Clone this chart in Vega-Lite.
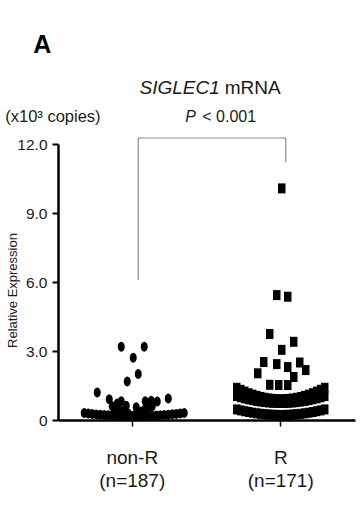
{
  "$schema": "https://vega.github.io/schema/vega-lite/v6.json",
  "width": 297,
  "height": 276,
  "autosize": {"type": "none"},
  "padding": {"left": 58, "top": 144, "right": 5, "bottom": 106},
  "background": "white",
  "config": {"view": {"stroke": null}, "font": "Liberation Sans"},
  "datasets": {
    "pts": [
      {"g": "non-R", "dx": -48, "v": 0.30}, {"g": "non-R", "dx": -44, "v": 0.279}, {"g": "non-R", "dx": -40, "v": 0.26},
      {"g": "non-R", "dx": -36, "v": 0.243}, {"g": "non-R", "dx": -32, "v": 0.228}, {"g": "non-R", "dx": -28, "v": 0.214},
      {"g": "non-R", "dx": -24, "v": 0.203}, {"g": "non-R", "dx": -20, "v": 0.193}, {"g": "non-R", "dx": -16, "v": 0.184},
      {"g": "non-R", "dx": -12, "v": 0.178}, {"g": "non-R", "dx": -8, "v": 0.174}, {"g": "non-R", "dx": -4, "v": 0.171},
      {"g": "non-R", "dx": 0, "v": 0.17}, {"g": "non-R", "dx": 4, "v": 0.171}, {"g": "non-R", "dx": 8, "v": 0.173},
      {"g": "non-R", "dx": 12, "v": 0.177}, {"g": "non-R", "dx": 16, "v": 0.182}, {"g": "non-R", "dx": 20, "v": 0.189},
      {"g": "non-R", "dx": 24, "v": 0.198}, {"g": "non-R", "dx": 28, "v": 0.208}, {"g": "non-R", "dx": 32, "v": 0.219},
      {"g": "non-R", "dx": 36, "v": 0.232}, {"g": "non-R", "dx": 40, "v": 0.247}, {"g": "non-R", "dx": 44, "v": 0.263},
      {"g": "non-R", "dx": 48, "v": 0.281}, {"g": "non-R", "dx": 52, "v": 0.30},
      {"g": "non-R", "dx": -20, "v": 0.6}, {"g": "non-R", "dx": -16, "v": 0.52}, {"g": "non-R", "dx": -12, "v": 0.44},
      {"g": "non-R", "dx": -8, "v": 0.36}, {"g": "non-R", "dx": -4, "v": 0.28}, {"g": "non-R", "dx": 4, "v": 0.28},
      {"g": "non-R", "dx": 8, "v": 0.36}, {"g": "non-R", "dx": 12, "v": 0.44}, {"g": "non-R", "dx": 16, "v": 0.52},
      {"g": "non-R", "dx": 20, "v": 0.6},
      {"g": "non-R", "dx": -11, "v": 3.19}, {"g": "non-R", "dx": 12, "v": 3.19}, {"g": "non-R", "dx": 1, "v": 2.71},
      {"g": "non-R", "dx": 6, "v": 2.0}, {"g": "non-R", "dx": -5, "v": 1.67}, {"g": "non-R", "dx": -35, "v": 1.2},
      {"g": "non-R", "dx": 36, "v": 0.94}, {"g": "non-R", "dx": -23, "v": 0.9}, {"g": "non-R", "dx": -11, "v": 0.82},
      {"g": "non-R", "dx": -15, "v": 0.72}, {"g": "non-R", "dx": 13, "v": 0.82}, {"g": "non-R", "dx": 19, "v": 0.84},
      {"g": "non-R", "dx": 25, "v": 0.8}, {"g": "non-R", "dx": -6, "v": 0.62}, {"g": "non-R", "dx": 4, "v": 0.55},

      {"g": "R", "dx": -44, "v": 1.40}, {"g": "R", "dx": -40, "v": 1.313}, {"g": "R", "dx": -36, "v": 1.235},
      {"g": "R", "dx": -32, "v": 1.164}, {"g": "R", "dx": -28, "v": 1.103}, {"g": "R", "dx": -24, "v": 1.049},
      {"g": "R", "dx": -20, "v": 1.003}, {"g": "R", "dx": -16, "v": 0.966}, {"g": "R", "dx": -12, "v": 0.937},
      {"g": "R", "dx": -8, "v": 0.917}, {"g": "R", "dx": -4, "v": 0.904}, {"g": "R", "dx": 0, "v": 0.90},
      {"g": "R", "dx": 4, "v": 0.904}, {"g": "R", "dx": 8, "v": 0.917}, {"g": "R", "dx": 12, "v": 0.937},
      {"g": "R", "dx": 16, "v": 0.966}, {"g": "R", "dx": 20, "v": 1.003}, {"g": "R", "dx": 24, "v": 1.049},
      {"g": "R", "dx": 28, "v": 1.103}, {"g": "R", "dx": 32, "v": 1.164}, {"g": "R", "dx": 36, "v": 1.235},
      {"g": "R", "dx": 40, "v": 1.313}, {"g": "R", "dx": 44, "v": 1.40},
      {"g": "R", "dx": -44, "v": 1.04}, {"g": "R", "dx": -40, "v": 0.988}, {"g": "R", "dx": -36, "v": 0.941},
      {"g": "R", "dx": -32, "v": 0.899}, {"g": "R", "dx": -28, "v": 0.862}, {"g": "R", "dx": -24, "v": 0.829},
      {"g": "R", "dx": -20, "v": 0.802}, {"g": "R", "dx": -16, "v": 0.78}, {"g": "R", "dx": -12, "v": 0.762},
      {"g": "R", "dx": -8, "v": 0.75}, {"g": "R", "dx": -4, "v": 0.742}, {"g": "R", "dx": 0, "v": 0.74},
      {"g": "R", "dx": 4, "v": 0.742}, {"g": "R", "dx": 8, "v": 0.75}, {"g": "R", "dx": 12, "v": 0.762},
      {"g": "R", "dx": 16, "v": 0.78}, {"g": "R", "dx": 20, "v": 0.802}, {"g": "R", "dx": 24, "v": 0.829},
      {"g": "R", "dx": 28, "v": 0.862}, {"g": "R", "dx": 32, "v": 0.899}, {"g": "R", "dx": 36, "v": 0.941},
      {"g": "R", "dx": 40, "v": 0.988}, {"g": "R", "dx": 44, "v": 1.04},
      {"g": "R", "dx": -44, "v": 0.46}, {"g": "R", "dx": -40, "v": 0.418}, {"g": "R", "dx": -36, "v": 0.381},
      {"g": "R", "dx": -32, "v": 0.347}, {"g": "R", "dx": -28, "v": 0.317}, {"g": "R", "dx": -24, "v": 0.291},
      {"g": "R", "dx": -20, "v": 0.27}, {"g": "R", "dx": -16, "v": 0.252}, {"g": "R", "dx": -12, "v": 0.238},
      {"g": "R", "dx": -8, "v": 0.228}, {"g": "R", "dx": -4, "v": 0.222}, {"g": "R", "dx": 0, "v": 0.22},
      {"g": "R", "dx": 4, "v": 0.222}, {"g": "R", "dx": 8, "v": 0.228}, {"g": "R", "dx": 12, "v": 0.238},
      {"g": "R", "dx": 16, "v": 0.252}, {"g": "R", "dx": 20, "v": 0.27}, {"g": "R", "dx": 24, "v": 0.291},
      {"g": "R", "dx": 28, "v": 0.317}, {"g": "R", "dx": 32, "v": 0.347}, {"g": "R", "dx": 36, "v": 0.381},
      {"g": "R", "dx": 40, "v": 0.418}, {"g": "R", "dx": 44, "v": 0.46},
      {"g": "R", "dx": 1, "v": 10.07}, {"g": "R", "dx": -4, "v": 5.43}, {"g": "R", "dx": 7, "v": 5.36},
      {"g": "R", "dx": -11, "v": 3.74}, {"g": "R", "dx": 13, "v": 3.4}, {"g": "R", "dx": 1, "v": 3.05},
      {"g": "R", "dx": -17, "v": 2.52}, {"g": "R", "dx": -4, "v": 2.43}, {"g": "R", "dx": 19, "v": 2.5},
      {"g": "R", "dx": -23, "v": 2.03}, {"g": "R", "dx": 7, "v": 2.3}, {"g": "R", "dx": 25, "v": 2.17},
      {"g": "R", "dx": 13, "v": 1.87}, {"g": "R", "dx": -11, "v": 1.53}, {"g": "R", "dx": -2, "v": 1.52},
      {"g": "R", "dx": 7, "v": 1.52}
    ],
    "bracket": [
      {"g": "non-R", "dx": 6, "v": 6.1, "o": 1},
      {"g": "non-R", "dx": 6, "v": 12.26, "o": 2},
      {"g": "R", "dx": 5, "v": 12.26, "o": 3},
      {"g": "R", "dx": 5, "v": 11.2, "o": 4}
    ],
    "one": [{"k": 1}]
  },
  "layer": [
    {
      "data": {"name": "pts"},
      "mark": {"type": "point", "filled": true, "color": "black", "opacity": 1, "size": 100, "clip": false},
      "encoding": {
        "x": {
          "field": "g", "type": "nominal",
          "scale": {"domain": ["non-R", "R"], "paddingInner": 0, "paddingOuter": 0},
          "axis": {
            "title": null, "labelAngle": 0,
            "labelExpr": "datum.value == 'non-R' ? ['non-R', '(n=187)'] : ['R', '(n=171)']",
            "labelFontSize": 19, "labelLineHeight": 23, "labelPadding": 22, "labelColor": "#1a1a1a",
            "domainColor": "black", "domainWidth": 2.5, "tickColor": "black", "tickWidth": 1.5, "tickSize": 6,
            "grid": false
          }
        },
        "xOffset": {"field": "dx", "type": "quantitative", "scale": {"domain": [-74.25, 74.25]}},
        "y": {
          "field": "v", "type": "quantitative",
          "scale": {"domain": [0, 12], "nice": false, "zero": true},
          "axis": {
            "values": [0, 3, 6, 9, 12],
            "labelExpr": "datum.value == 0 ? '0' : format(datum.value, '.1f')",
            "title": "Relative Expression", "titleFontSize": 13, "titleFontWeight": "normal", "titleColor": "#1a1a1a",
            "titleX": -39, "titleY": 146,
            "labelFontSize": 15.5, "labelColor": "#1a1a1a", "labelPadding": 5,
            "tickSize": 6, "tickWidth": 2, "tickColor": "black",
            "domainColor": "black", "domainWidth": 2.5, "grid": false
          }
        },
        "shape": {
          "field": "g", "type": "nominal",
          "scale": {"domain": ["non-R", "R"], "range": [
            "M0,-1C0.3866,-1,0.7,-0.5523,0.7,0C0.7,0.5523,0.3866,1,0,1C-0.3866,1,-0.7,0.5523,-0.7,0C-0.7,-0.5523,-0.3866,-1,0,-1Z",
            "M-0.75,-1L0.75,-1L0.75,1L-0.75,1Z"
          ]},
          "legend": null
        }
      }
    },
    {
      "data": {"name": "bracket"},
      "mark": {"type": "line", "color": "#8c8c8c", "strokeWidth": 1.2, "clip": false},
      "encoding": {
        "x": {"field": "g", "type": "nominal"},
        "xOffset": {"field": "dx", "type": "quantitative"},
        "y": {"field": "v", "type": "quantitative"},
        "order": {"field": "o", "type": "quantitative"}
      }
    },
    {
      "data": {"name": "one"},
      "mark": {"type": "text", "text": "SIGLEC1", "fontSize": 19, "fontStyle": "italic", "align": "right", "baseline": "alphabetic", "color": "#1a1a1a"},
      "encoding": {"x": {"datum": "R"}, "xOffset": {"datum": -61, "type": "quantitative"}, "y": {"datum": 14.17, "type": "quantitative"}}
    },
    {
      "data": {"name": "one"},
      "mark": {"type": "text", "text": "mRNA", "fontSize": 19, "align": "left", "baseline": "alphabetic", "color": "#1a1a1a"},
      "encoding": {"x": {"datum": "R"}, "xOffset": {"datum": -56, "type": "quantitative"}, "y": {"datum": 14.17, "type": "quantitative"}}
    },
    {
      "data": {"name": "one"},
      "mark": {"type": "text", "text": "P", "fontSize": 16, "fontStyle": "italic", "align": "left", "baseline": "alphabetic", "color": "#1a1a1a"},
      "encoding": {"x": {"datum": "non-R"}, "xOffset": {"datum": 53, "type": "quantitative"}, "y": {"datum": 12.97, "type": "quantitative"}}
    },
    {
      "data": {"name": "one"},
      "mark": {"type": "text", "text": "< 0.001", "fontSize": 16, "align": "left", "baseline": "alphabetic", "color": "#1a1a1a"},
      "encoding": {"x": {"datum": "non-R"}, "xOffset": {"datum": 70, "type": "quantitative"}, "y": {"datum": 12.97, "type": "quantitative"}}
    },
    {
      "data": {"name": "one"},
      "mark": {"type": "text", "text": "(x10³ copies)", "fontSize": 16.5, "align": "left", "baseline": "alphabetic", "color": "#1a1a1a"},
      "encoding": {"x": {"datum": "non-R"}, "xOffset": {"datum": -127, "type": "quantitative"}, "y": {"datum": 12.97, "type": "quantitative"}}
    },
    {
      "data": {"name": "one"},
      "mark": {"type": "text", "text": "A", "fontSize": 25, "fontWeight": "bold", "align": "left", "baseline": "alphabetic", "color": "black"},
      "encoding": {"x": {"datum": "non-R"}, "xOffset": {"datum": -99, "type": "quantitative"}, "y": {"datum": 15.96, "type": "quantitative"}}
    }
  ]
}
